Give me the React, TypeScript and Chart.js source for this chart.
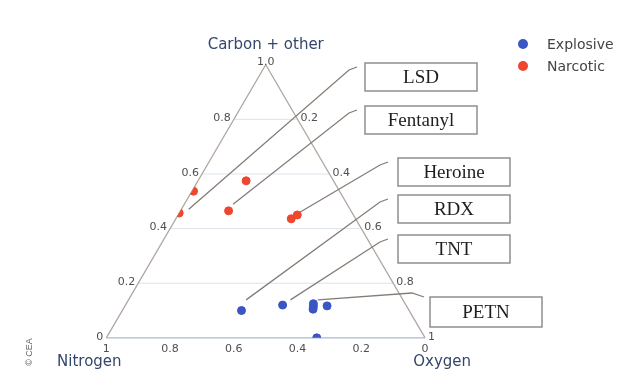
import React, { useEffect, useRef } from 'react';
import { Chart, registerables } from 'chart.js';

Chart.register(...registerables);

// ---------- data ----------
const seriesNames = ['Explosive', 'Narcotic'];
const seriesColors = ['#3b55c4', '#ef4630'];

const explosiveCarbon = [0.10, 0.12, 0.125, 0.115, 0.105, 0.117, 0.0];
const explosiveNitrogen = [0.526, 0.387, 0.288, 0.293, 0.299, 0.249, 0.34];
const explosiveOxygen = [0.374, 0.493, 0.587, 0.592, 0.596, 0.634, 0.66];

const narcoticCarbon = [0.537, 0.457, 0.575, 0.465, 0.436, 0.45];
const narcoticNitrogen = [0.458, 0.543, 0.274, 0.384, 0.202, 0.176];
const narcoticOxygen = [0.005, 0.0, 0.151, 0.151, 0.362, 0.374];

const axisTitles = ['Carbon + other', 'Nitrogen', 'Oxygen'];
const carbonTicks = [0, 0.2, 0.4, 0.6, 0.8, 1];
const carbonTickLabels = ['0', '0.2', '0.4', '0.6', '0.8', '1.0'];
const nitrogenTicks = [1, 0.8, 0.6, 0.4, 0.2, 0];
const nitrogenTickLabels = ['1', '0.8', '0.6', '0.4', '0.2', '0'];
const oxygenTicks = [0.2, 0.4, 0.6, 0.8, 1];
const oxygenTickLabels = ['0.2', '0.4', '0.6', '0.8', '1'];
const gridValues = [0.2, 0.4, 0.6, 0.8];

const calloutNames = ['LSD', 'Fentanyl', 'Heroine', 'RDX', 'TNT', 'PETN'];
const calloutCarbon = [0.471, 0.489, 0.461, 0.139, 0.139, 0.139];
const calloutOxygen = [0.023, 0.153, 0.378, 0.369, 0.508, 0.594];

// ---------- layout (pixels) ----------
const W = 620;
const H = 373;
const LEFT_PX = 103;
const BASE_PX = 342;
const UNIT_PX = 324;
const CALLOUT_LAYOUT = [
  { box: [365, 63, 112, 28], path: [[349, 70], [357, 67]] },
  { box: [365, 106, 112, 28], path: [[349, 113], [357, 110]] },
  { box: [398, 158, 112, 28], path: [[380, 165], [388, 162]] },
  { box: [398, 195, 112, 28], path: [[380, 202], [388, 199]] },
  { box: [398, 235, 112, 28], path: [[380, 242], [388, 239]] },
  { box: [430, 297, 112, 30], path: [[412, 293], [424, 297]] },
];

const SQ = Math.sqrt(3) / 2;
function toCart(c: number, n: number, o: number) {
  const t = c + n + o || 1;
  const cc = c / t;
  const oo = o / t;
  return { x: oo + cc / 2, y: cc * SQ };
}

const TICK_FONT = '11px "DejaVu Sans"';
const TITLE_FONT = '15px "DejaVu Sans"';

const ternaryPlugin = {
  id: 'ternary',
  beforeDatasetsDraw(chart: any) {
    const ctx: CanvasRenderingContext2D = chart.ctx;
    const xs = chart.scales.x;
    const ys = chart.scales.y;
    const P = (c: number, o: number) => {
      const p = toCart(c, 1 - c - o, o);
      return [xs.getPixelForValue(p.x), ys.getPixelForValue(p.y)];
    };
    const A = P(1, 0); // carbon apex
    const B = P(0, 0); // nitrogen vertex
    const C = P(0, 1); // oxygen vertex

    ctx.save();
    // grid lines (carbon)
    ctx.strokeStyle = '#dde3ec';
    ctx.lineWidth = 1;
    gridValues.forEach((g) => {
      const a = P(g, 0);
      const b = P(g, 1 - g);
      ctx.beginPath();
      ctx.moveTo(a[0], a[1]);
      ctx.lineTo(b[0], b[1]);
      ctx.stroke();
    });

    // edges
    ctx.lineWidth = 1.3;
    ctx.strokeStyle = '#b0a7a2';
    ctx.beginPath();
    ctx.moveTo(B[0], B[1]);
    ctx.lineTo(A[0], A[1]);
    ctx.lineTo(C[0], C[1]);
    ctx.stroke();
    ctx.strokeStyle = '#a6bad7';
    ctx.beginPath();
    ctx.moveTo(B[0], B[1]);
    ctx.lineTo(C[0], C[1]);
    ctx.stroke();

    // tick labels
    ctx.font = TICK_FONT;
    ctx.fillStyle = '#4f4f4f';
    carbonTicks.forEach((v, i) => {
      const p = P(v, 0);
      if (v === 1) {
        ctx.textAlign = 'center';
        ctx.textBaseline = 'middle';
        ctx.fillText(carbonTickLabels[i], p[0], p[1] - 3);
      } else {
        ctx.textAlign = 'right';
        ctx.textBaseline = 'middle';
        ctx.fillText(carbonTickLabels[i], p[0] - 3, p[1] - 1);
      }
    });
    oxygenTicks.forEach((v, i) => {
      const p = P(1 - v, v);
      ctx.textAlign = 'left';
      ctx.textBaseline = 'middle';
      ctx.fillText(oxygenTickLabels[i], p[0] + 3, p[1] - 1);
    });
    nitrogenTicks.forEach((v, i) => {
      const p = P(0, 1 - v);
      ctx.textAlign = 'center';
      ctx.textBaseline = 'middle';
      ctx.fillText(nitrogenTickLabels[i], p[0], p[1] + 11);
    });

    // axis titles
    ctx.font = TITLE_FONT;
    ctx.fillStyle = '#34466b';
    ctx.textAlign = 'center';
    ctx.textBaseline = 'middle';
    ctx.fillText(axisTitles[0], A[0], A[1] - 20);
    ctx.fillText(axisTitles[1], B[0] - 17, B[1] + 24);
    ctx.fillText(axisTitles[2], C[0] + 17, C[1] + 24);

    // callouts
    calloutNames.forEach((name, i) => {
      const lay = CALLOUT_LAYOUT[i];
      const t = P(calloutCarbon[i], calloutOxygen[i]);
      ctx.strokeStyle = '#857c76';
      ctx.lineWidth = 1.3;
      ctx.beginPath();
      ctx.moveTo(t[0], t[1]);
      ctx.lineTo(lay.path[0][0], lay.path[0][1]);
      ctx.lineTo(lay.path[1][0], lay.path[1][1]);
      ctx.stroke();
      const [bx, by, bw, bh] = lay.box;
      ctx.fillStyle = '#ffffff';
      ctx.fillRect(bx, by, bw, bh);
      ctx.strokeStyle = '#8e8e8e';
      ctx.lineWidth = 1.5;
      ctx.strokeRect(bx, by, bw, bh);
      ctx.fillStyle = '#1e1e1e';
      ctx.font = '19px "Liberation Serif"';
      ctx.textAlign = 'center';
      ctx.textBaseline = 'middle';
      ctx.fillText(name, bx + bw / 2, by + bh / 2 + 1);
    });

    // legend
    ctx.font = '14px "DejaVu Sans"';
    seriesNames.forEach((name, i) => {
      const ly = 44 + i * 22;
      ctx.fillStyle = seriesColors[i];
      ctx.beginPath();
      ctx.arc(523, ly, 5, 0, Math.PI * 2);
      ctx.fill();
      ctx.fillStyle = '#444444';
      ctx.textAlign = 'left';
      ctx.textBaseline = 'middle';
      ctx.fillText(name, 547, ly + 1);
    });

    // copyright
    ctx.save();
    ctx.translate(30, 352);
    ctx.rotate(-Math.PI / 2);
    ctx.font = '9px "Liberation Sans"';
    ctx.fillStyle = '#666';
    ctx.textAlign = 'center';
    ctx.textBaseline = 'middle';
    ctx.fillText('\u00A9 CEA', 0, 0);
    ctx.restore();

    ctx.restore();

    // clip markers to triangle
    ctx.save();
    ctx.beginPath();
    ctx.moveTo(A[0], A[1]);
    ctx.lineTo(B[0], B[1]);
    ctx.lineTo(C[0], C[1]);
    ctx.closePath();
    ctx.clip();
  },
  afterDatasetsDraw(chart: any) {
    chart.ctx.restore();
  },
};

export default function App() {
  const ref = useRef<HTMLCanvasElement | null>(null);
  useEffect(() => {
    if (!ref.current) return;
    const explosive = explosiveCarbon.map((c, i) =>
      toCart(c, explosiveNitrogen[i], explosiveOxygen[i])
    );
    const narcotic = narcoticCarbon.map((c, i) =>
      toCart(c, narcoticNitrogen[i], narcoticOxygen[i])
    );
    const chart = new Chart(ref.current, {
      type: 'scatter',
      data: {
        datasets: [
          {
            label: seriesNames[0],
            data: explosive,
            backgroundColor: seriesColors[0],
            borderColor: seriesColors[0],
            borderWidth: 1,
            pointRadius: 4,
          },
          {
            label: seriesNames[1],
            data: narcotic,
            backgroundColor: seriesColors[1],
            borderColor: seriesColors[1],
            borderWidth: 1,
            pointRadius: 4,
          },
        ],
      },
      options: {
        animation: false,
        responsive: false,
        devicePixelRatio: 1,
        layout: { padding: 0 },
        scales: {
          x: {
            type: 'linear',
            display: false,
            min: -LEFT_PX / UNIT_PX,
            max: (W - LEFT_PX) / UNIT_PX,
          },
          y: {
            type: 'linear',
            display: false,
            min: -(H - BASE_PX) / UNIT_PX,
            max: BASE_PX / UNIT_PX,
          },
        },
        plugins: {
          legend: { display: false },
          tooltip: { enabled: false },
        },
      },
      plugins: [ternaryPlugin],
    });
    return () => chart.destroy();
  }, []);
  return (
    <div style={{ position: 'absolute', left: 0, top: 0, width: W, height: H, background: '#fff' }}>
      <canvas ref={ref} width={W} height={H} style={{ display: 'block' }} />
    </div>
  );
}
